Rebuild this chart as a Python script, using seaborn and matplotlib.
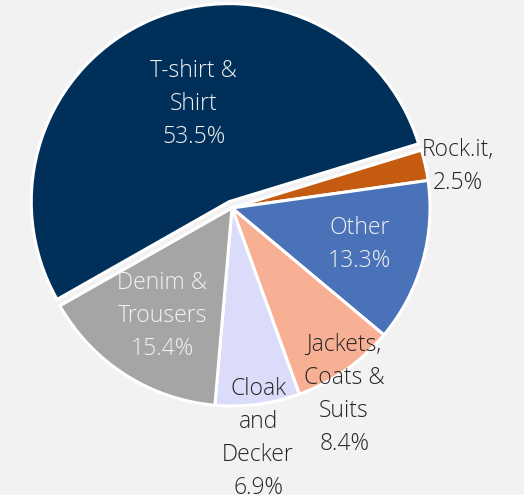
import numpy as np
import matplotlib
matplotlib.use("Agg")
import matplotlib.pyplot as plt
import seaborn as sns

categories = ["T-shirt &\nShirt", "Rock.it,", "Other", "Jackets,\nCoats &\nSuits", "Cloak\nand\nDecker", "Denim &\nTrousers"]
values = [53.5, 2.5, 13.3, 8.4, 6.9, 15.4]
colors = ["#003059", "#c55a11", "#4a72b8", "#f7b093", "#dadcfa", "#a5a5a5"]
label_colors = ["#f2f2f2", "#262626", "#f2f2f2", "#262626", "#262626", "#f2f2f2"]
label_dist = [0.56, 1.16, 0.67, 1.10, 1.17, 0.65]
label_shift = [-3, -2, 0, -4, -1, 0]
explode = [0.035, 0, 0, 0, 0, 0]

sns.set_theme(style="white")
plt.rcParams['font.family'] = ['Open Sans', 'DejaVu Sans']

W, H = 524, 495
fig = plt.figure(figsize=(W / 100, H / 100), dpi=100)
fig.patch.set_facecolor("#f2f2f2")
ax = fig.add_axes([0, 0, 1, 1])
ax.set_facecolor("#f2f2f2")

startangle = 209.6
wedges, _ = ax.pie(values, colors=colors, startangle=startangle, counterclock=False,
                   explode=explode, radius=1.0,
                   wedgeprops=dict(edgecolor="white", linewidth=2.2))

total = sum(values)
ang = startangle
for i, (cat, v) in enumerate(zip(categories, values)):
    span = v / total * 360
    mid = ang - span / 2 + label_shift[i]
    ang -= span
    r = label_dist[i]
    x, y = r * np.cos(np.radians(mid)), r * np.sin(np.radians(mid))
    ax.text(x, y, f"{cat}\n{v}%", ha="center", va="center", fontsize=16.5,
            color=label_colors[i], linespacing=1.5, fontweight="light")

cx, cy, R = 232, 208, 198
ax.set_aspect("auto")
ax.set_xlim(-cx / R, (W - cx) / R)
ax.set_ylim(-(H - cy) / R, cy / R)
ax.axis("off")
fig.savefig("out.png", dpi=100, facecolor=fig.get_facecolor())
